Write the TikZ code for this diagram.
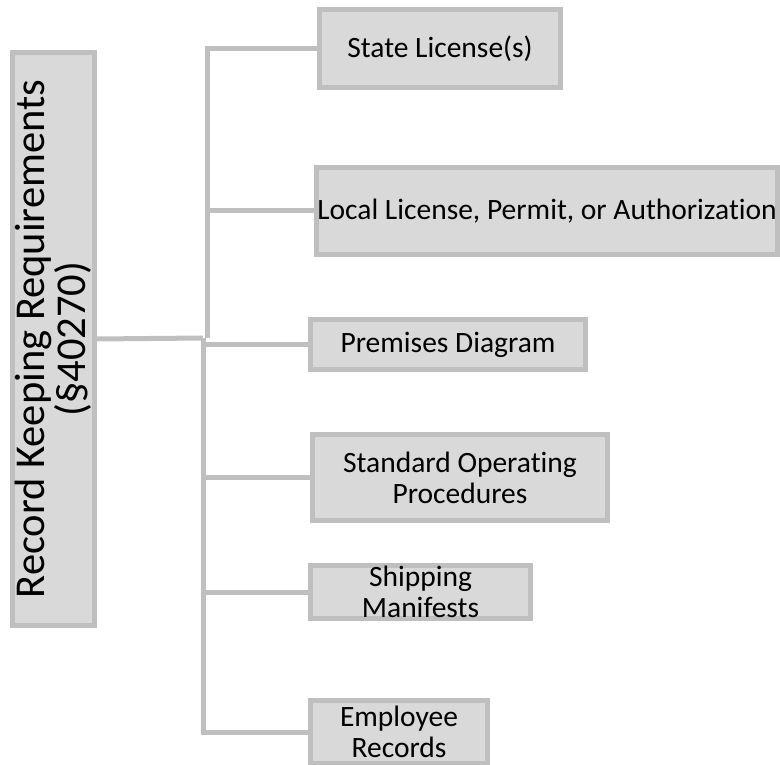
\documentclass[tikz,border=0pt]{standalone}
\usepackage{fontspec}
\setmainfont{Carlito}[Ligatures=NoCommon]
\definecolor{boxfill}{HTML}{D9D9D9}
\definecolor{boxline}{HTML}{BFBFBF}
\begin{document}
\begin{tikzpicture}[x=1pt, y=-1pt,
   item/.style={rectangle, draw=boxline, fill=boxfill, line width=5pt, inner sep=0pt, align=center, font=\fontsize{29.5}{31}\selectfont},
   link/.style={draw=boxline, line width=5pt}]
   \useasboundingbox (0,0) rectangle (780,765);
   % root box, text runs upwards
   \node[item, rotate=90, minimum width=573, minimum height=82, font=\fontsize{42.5}{41}\selectfont] (root) at (53.5,339) {Record Keeping Requirements\\(\S40270)};
   % branches
   \node[item, minimum width=241, minimum height=78] (state) at (440,48.5) {State License(s)};
   \node[item, minimum width=461, minimum height=87] (local) at (547,211) {Local License, Permit, or Authorization};
   \node[item, minimum width=275, minimum height=50] (premises) at (448,344.5) {Premises Diagram};
   \node[item, minimum width=295, minimum height=86] (standard) at (460,477.5) {Standard Operating\\Procedures};
   \node[item, minimum width=220, minimum height=53] (shipping) at (420.5,592) {Shipping\\Manifests};
   \node[item, minimum width=177, minimum height=63] (employee) at (399,732) {Employee\\Records};
   % trunk
   \coordinate (mid) at (207,338);
   \coordinate (midlow) at (203,338);
   \draw[link] (root.south) -- (midlow);
   \draw[link] (state.west) -| (mid);
   \draw[link] (local.west) -- (local.west -| mid);
   \draw[link] (employee.west) -| (midlow);
   \foreach \n in {premises, standard, shipping}
      \draw[link] (\n.west) -- (\n.west -| midlow);
\end{tikzpicture}
\end{document}
